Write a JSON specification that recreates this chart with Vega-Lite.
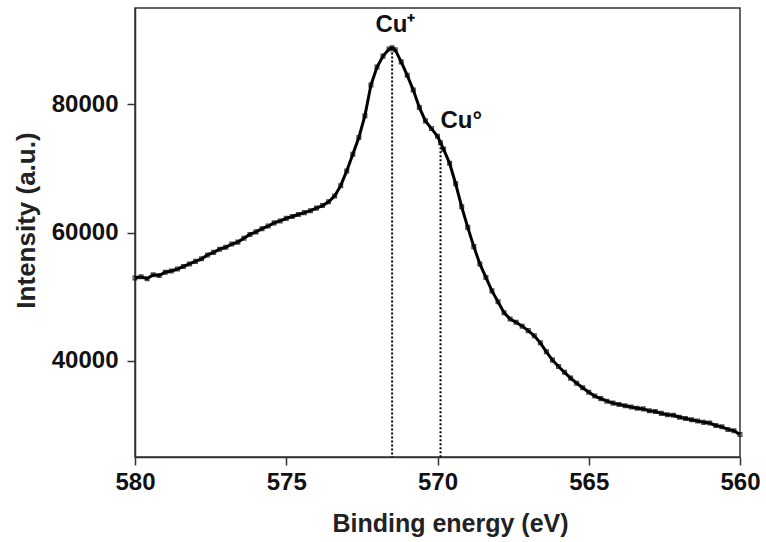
{
  "$schema": "https://vega.github.io/schema/vega-lite/v6.json",
  "autosize": "none",
  "width": 605,
  "height": 449,
  "padding": {"left": 135, "top": 8, "right": 26, "bottom": 85},
  "background": "white",
  "config": {
    "view": {"stroke": "#333333", "strokeWidth": 1.5},
    "font": "Liberation Sans"
  },
  "datasets": {
    "spec": [
      {"E": 580.0, "I": 52900}, {"E": 579.8, "I": 53100}, {"E": 579.6, "I": 52800}, {"E": 579.4, "I": 53400},
      {"E": 579.2, "I": 53300}, {"E": 579.0, "I": 53800}, {"E": 578.8, "I": 54000}, {"E": 578.6, "I": 54300},
      {"E": 578.4, "I": 54700}, {"E": 578.2, "I": 55100}, {"E": 578.0, "I": 55500}, {"E": 577.8, "I": 55900},
      {"E": 577.6, "I": 56500}, {"E": 577.4, "I": 56900}, {"E": 577.2, "I": 57400}, {"E": 577.0, "I": 57700},
      {"E": 576.8, "I": 58200}, {"E": 576.6, "I": 58500}, {"E": 576.4, "I": 59100}, {"E": 576.2, "I": 59700},
      {"E": 576.0, "I": 60100}, {"E": 575.8, "I": 60600}, {"E": 575.6, "I": 61000}, {"E": 575.4, "I": 61500},
      {"E": 575.2, "I": 61800}, {"E": 575.0, "I": 62200}, {"E": 574.8, "I": 62500}, {"E": 574.6, "I": 62800},
      {"E": 574.4, "I": 63100}, {"E": 574.2, "I": 63400}, {"E": 574.0, "I": 63800}, {"E": 573.8, "I": 64200},
      {"E": 573.6, "I": 64800}, {"E": 573.4, "I": 65700}, {"E": 573.2, "I": 67300}, {"E": 573.0, "I": 69600},
      {"E": 572.8, "I": 72200}, {"E": 572.6, "I": 74800}, {"E": 572.4, "I": 78200}, {"E": 572.2, "I": 83000},
      {"E": 572.0, "I": 85800}, {"E": 571.8, "I": 87500}, {"E": 571.6, "I": 88600}, {"E": 571.5, "I": 88800},
      {"E": 571.4, "I": 88500}, {"E": 571.2, "I": 86600}, {"E": 571.0, "I": 84500}, {"E": 570.8, "I": 82200},
      {"E": 570.6, "I": 79500}, {"E": 570.4, "I": 77400}, {"E": 570.2, "I": 76200}, {"E": 570.0, "I": 75000},
      {"E": 569.9, "I": 74000}, {"E": 569.8, "I": 73000}, {"E": 569.6, "I": 70800}, {"E": 569.4, "I": 67600},
      {"E": 569.2, "I": 64000}, {"E": 569.0, "I": 60800}, {"E": 568.8, "I": 57800}, {"E": 568.6, "I": 55100},
      {"E": 568.4, "I": 53000}, {"E": 568.2, "I": 50900}, {"E": 568.0, "I": 49200}, {"E": 567.8, "I": 47500},
      {"E": 567.6, "I": 46500}, {"E": 567.4, "I": 46000}, {"E": 567.2, "I": 45400}, {"E": 567.0, "I": 44700},
      {"E": 566.8, "I": 43900}, {"E": 566.6, "I": 42800}, {"E": 566.4, "I": 41400}, {"E": 566.2, "I": 40100},
      {"E": 566.0, "I": 39100}, {"E": 565.8, "I": 38200}, {"E": 565.6, "I": 37300}, {"E": 565.4, "I": 36500},
      {"E": 565.2, "I": 35800}, {"E": 565.0, "I": 35100}, {"E": 564.8, "I": 34500}, {"E": 564.6, "I": 34100},
      {"E": 564.4, "I": 33700}, {"E": 564.2, "I": 33400}, {"E": 564.0, "I": 33200}, {"E": 563.8, "I": 33000},
      {"E": 563.6, "I": 32800}, {"E": 563.4, "I": 32600}, {"E": 563.2, "I": 32500}, {"E": 563.0, "I": 32200},
      {"E": 562.8, "I": 32100}, {"E": 562.6, "I": 31800}, {"E": 562.4, "I": 31600}, {"E": 562.2, "I": 31500},
      {"E": 562.0, "I": 31200}, {"E": 561.8, "I": 31000}, {"E": 561.6, "I": 30800}, {"E": 561.4, "I": 30600},
      {"E": 561.2, "I": 30400}, {"E": 561.0, "I": 30300}, {"E": 560.8, "I": 29900}, {"E": 560.6, "I": 29700},
      {"E": 560.4, "I": 29300}, {"E": 560.2, "I": 29100}, {"E": 560.0, "I": 28500}
    ],
    "peaks": [
      {"E": 571.5, "top": 88700, "bottom": 25000},
      {"E": 569.9, "top": 73900, "bottom": 25000}
    ],
    "labels": [
      {"E": 572.05, "I": 91200, "label": "Cu⁺"},
      {"E": 569.9, "I": 76300, "label": "Cu°"}
    ]
  },
  "layer": [
    {
      "data": {"name": "peaks"},
      "mark": {"type": "rule", "color": "black", "strokeWidth": 2, "strokeDash": [2, 2]},
      "encoding": {
        "x": {"field": "E", "type": "quantitative"},
        "y": {"field": "top", "type": "quantitative"},
        "y2": {"field": "bottom"}
      }
    },
    {
      "data": {"name": "spec"},
      "mark": {"type": "line", "color": "black", "strokeWidth": 3},
      "encoding": {
        "x": {
          "field": "E", "type": "quantitative",
          "scale": {"domain": [580, 560], "nice": false, "zero": false},
          "axis": {
            "values": [580, 575, 570, 565, 560],
            "title": "Binding energy (eV)",
            "grid": false,
            "domainColor": "#333333", "domainWidth": 1.5,
            "tickColor": "#333333", "tickWidth": 1.5, "tickSize": 8,
            "labelFont": "Liberation Sans", "labelFontWeight": "bold", "labelFontSize": 24, "labelColor": "#111111",
            "labelPadding": 5, "labelFlush": false,
            "titleFont": "Liberation Sans", "titleFontWeight": "bold", "titleFontSize": 25, "titleColor": "#222222",
            "titleX": 315, "titleY": 74, "titleAlign": "center", "titleBaseline": "alphabetic"
          }
        },
        "y": {
          "field": "I", "type": "quantitative",
          "scale": {"domain": [25000, 95000], "nice": false, "zero": false},
          "axis": {
            "values": [40000, 60000, 80000],
            "format": "d",
            "title": "Intensity (a.u.)",
            "grid": false,
            "domainColor": "#333333", "domainWidth": 1.5,
            "tickColor": "#333333", "tickWidth": 1.5, "tickSize": 8,
            "labelFont": "Liberation Sans", "labelFontWeight": "bold", "labelFontSize": 24, "labelColor": "#111111",
            "labelPadding": 9,
            "titleFont": "Liberation Sans", "titleFontWeight": "bold", "titleFontSize": 26, "titleColor": "#222222",
            "titleX": -109, "titleY": 212, "titleAlign": "center", "titleBaseline": "middle", "titleAngle": -90
          }
        }
      }
    },
    {
      "data": {"name": "spec"},
      "mark": {"type": "point", "shape": "square", "filled": false, "color": "black", "size": 14, "strokeWidth": 1.3},
      "encoding": {
        "x": {"field": "E", "type": "quantitative"},
        "y": {"field": "I", "type": "quantitative"}
      }
    },
    {
      "data": {"name": "labels"},
      "mark": {"type": "text", "align": "left", "baseline": "alphabetic", "font": "Liberation Sans", "fontWeight": "bold", "fontSize": 24, "color": "#111111"},
      "encoding": {
        "x": {"field": "E", "type": "quantitative"},
        "y": {"field": "I", "type": "quantitative"},
        "text": {"field": "label"}
      }
    }
  ]
}
